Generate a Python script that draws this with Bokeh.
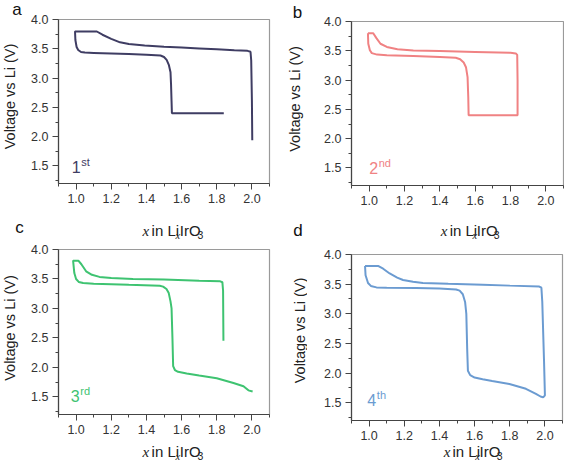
import math
from bokeh.plotting import figure
from bokeh.layouts import column, row
from bokeh.models import Label, FixedTicker, PrintfTickFormatter, Range1d
from bokeh.embed import file_html
from bokeh.resources import INLINE

# ---------------- data ----------------
x_ticks = [1.0, 1.2, 1.4, 1.6, 1.8, 2.0]
x_minor = [0.9, 1.1, 1.3, 1.5, 1.7, 1.9, 2.1]
v_ticks = [1.5, 2.0, 2.5, 3.0, 3.5, 4.0]
v_minor = [1.25, 1.75, 2.25, 2.75, 3.25, 3.75]

# cycle 1
a_x = [1.84, 1.545, 1.543, 1.540, 1.537, 1.528, 1.515, 1.50, 1.48, 1.40, 1.30, 1.20, 1.10,
       1.05, 1.028, 1.012, 1.003, 0.996, 0.994, 1.05, 1.118, 1.15, 1.20, 1.25, 1.30, 1.39,
       1.50, 1.60, 1.70, 1.80, 1.90, 1.975, 1.992, 1.996, 2.0, 2.002]
a_v = [2.40, 2.40, 2.60, 2.90, 3.10, 3.22, 3.31, 3.36, 3.385, 3.40, 3.41, 3.42, 3.43,
       3.435, 3.445, 3.48, 3.53, 3.65, 3.795, 3.795, 3.795, 3.74, 3.67, 3.61, 3.58, 3.555,
       3.535, 3.52, 3.505, 3.49, 3.475, 3.465, 3.45, 3.30, 2.60, 1.94]

# cycle 2
b_x = [0.993, 1.023, 1.04, 1.064, 1.10, 1.16, 1.25, 1.40, 1.60, 1.80, 1.830, 1.838, 1.840,
       1.840, 1.70, 1.563, 1.561, 1.557, 1.548, 1.535, 1.515, 1.49, 1.40, 1.25, 1.10, 1.045,
       1.015, 1.004, 0.995, 0.993]
b_v = [3.80, 3.80, 3.72, 3.62, 3.565, 3.525, 3.505, 3.495, 3.48, 3.465, 3.455, 3.43, 3.00,
       2.40, 2.40, 2.40, 2.70, 3.05, 3.22, 3.30, 3.355, 3.38, 3.395, 3.41, 3.425, 3.435,
       3.46, 3.51, 3.62, 3.80]

# cycle 3
c_x = [2.004, 1.98, 1.952, 1.895, 1.80, 1.70, 1.629, 1.58, 1.562, 1.552, 1.548, 1.543, 1.537,
       1.527, 1.514, 1.495, 1.476, 1.30, 1.10, 1.04, 1.015, 1.0, 0.99, 0.983, 1.013, 1.03,
       1.057, 1.09, 1.133, 1.20, 1.324, 1.50, 1.70, 1.82, 1.832, 1.836, 1.838]
c_v = [1.59, 1.61, 1.68, 1.735, 1.815, 1.86, 1.895, 1.925, 1.955, 2.02, 2.50, 3.00, 3.12,
       3.26, 3.33, 3.37, 3.385, 3.40, 3.42, 3.43, 3.45, 3.50, 3.60, 3.81, 3.81, 3.75,
       3.63, 3.57, 3.535, 3.515, 3.50, 3.49, 3.47, 3.46, 3.445, 3.30, 2.45]

# cycle 4
d_x = [0.977, 1.051, 1.08, 1.117, 1.16, 1.193, 1.25, 1.306, 1.45, 1.646, 1.80, 1.968, 1.98,
       1.985, 1.995, 2.0, 1.99, 1.975, 1.949, 1.892, 1.798, 1.70, 1.646, 1.60, 1.575, 1.562,
       1.558, 1.553, 1.546, 1.533, 1.515, 1.495, 1.40, 1.268, 1.10, 1.042, 1.01, 0.994,
       0.98, 0.977]
d_v = [3.807, 3.807, 3.76, 3.68, 3.61, 3.57, 3.54, 3.52, 3.505, 3.49, 3.475, 3.46, 3.44,
       3.20, 2.20, 1.625, 1.59, 1.605, 1.65, 1.735, 1.815, 1.865, 1.895, 1.925, 1.965, 2.04,
       2.40, 3.00, 3.20, 3.33, 3.39, 3.41, 3.425, 3.435, 3.44, 3.445, 3.47, 3.52,
       3.65, 3.807]

cycle_nums = ["1", "2", "3", "4"]
cycle_sups = ["st", "nd", "rd", "th"]
panel_letters = ["a", "b", "c", "d"]
colors = ["#3f3d63", "#f08283", "#3ec371", "#6b9bd1"]
y_label = "Voltage vs Li (V)"

SANS = "Liberation Sans"
SERIF = "Liberation Serif"
AXIS_DARK = "#444444"
TEXT = "#222222"


def make_panel(xs, vs, color, num, sup, fw, fh, bl, br, bt, bb, ord_xy):
    p = figure(frame_width=fw, frame_height=fh, min_border_left=bl, min_border_right=br,
               min_border_top=bt, min_border_bottom=bb, title=None,
               x_range=Range1d(0.9, 2.1), y_range=Range1d(1.2, 4.0),
               toolbar_location=None, output_backend="svg")
    p.line(xs, vs, line_color=color, line_width=2)
    p.xgrid.visible = False
    p.ygrid.visible = False
    p.outline_line_color = "#9a9a9a"
    p.outline_line_width = 1.2
    p.background_fill_color = "white"
    p.border_fill_color = "white"
    p.xaxis.ticker = FixedTicker(ticks=x_ticks, minor_ticks=x_minor)
    p.yaxis.ticker = FixedTicker(ticks=v_ticks, minor_ticks=v_minor)
    for ax in (p.xaxis[0], p.yaxis[0]):
        ax.formatter = PrintfTickFormatter(format="%.1f")
        ax.axis_line_color = AXIS_DARK
        ax.axis_line_width = 1.2
        ax.major_tick_line_color = AXIS_DARK
        ax.minor_tick_line_color = AXIS_DARK
        ax.major_tick_out = 6
        ax.major_tick_in = 0
        ax.minor_tick_out = 3
        ax.minor_tick_in = 0
        ax.major_label_text_font = SANS
        ax.major_label_text_font_size = "12.5px"
        ax.major_label_text_color = "#333333"
        ax.major_label_standoff = 4

    # cycle label e.g. 1st (anchors are visual centres)
    ox, oy = ord_xy
    p.add_layout(Label(x=ox, y=oy, text=num, text_font=SANS, text_font_size="16px",
                       text_color=color, text_baseline="middle", text_align="left"))
    p.add_layout(Label(x=ox, y=oy, x_offset=9.5, y_offset=5, text=sup, text_font=SANS,
                       text_font_size="11px", text_color=color,
                       text_baseline="middle", text_align="left"))
    return p


def strip(w, h):
    s = figure(width=w, height=h, x_range=Range1d(0, w), y_range=Range1d(0, h),
               x_axis_type=None, y_axis_type=None, min_border=0, title=None,
               toolbar_location=None, output_backend="svg")
    s.outline_line_color = None
    s.background_fill_color = "white"
    s.border_fill_color = "white"
    return s


def x_label(s, cx, cy):
    # "x in LixIrO3" with italic x and subscripts (advance widths in px)
    pieces = [("x", SERIF, "italic", 15, 0, 10.9),
              ("in Li", SANS, "normal", 15, 0, 28.3),
              ("x", SERIF, "italic", 10.5, -4.8, 5.2),
              ("IrO", SANS, "normal", 15, 0, 21.1),
              ("3", SANS, "normal", 10.5, -4.8, 5.8)]
    total = sum(pc[5] for pc in pieces)
    sx = cx - total / 2
    for txt, fnt, sty, size, dy, w in pieces:
        s.add_layout(Label(x=sx, y=cy + dy, text=txt, text_font=fnt, text_font_style=sty,
                           text_font_size=f"{size}px", text_color=TEXT,
                           text_baseline="middle", text_align="left"))
        sx += w


def letter(s, txt, x, y):
    s.add_layout(Label(x=x, y=y, text=txt, text_font=SANS, text_font_size="17px",
                       text_color="#111111", text_baseline="middle", text_align="center"))


def ylab(s, x, y):
    s.add_layout(Label(x=x, y=y, text=y_label, angle=math.pi / 2, text_font=SANS,
                       text_font_size="14.5px", text_color=TEXT,
                       text_baseline="middle", text_align="center"))


H = 462
# ---------- left column (page x 0 .. 279) ----------
pa = make_panel(a_x, a_v, colors[0], cycle_nums[0], cycle_sups[0],
                211, 164, 30, 10, 19, 25, (0.975, 1.49))
pc = make_panel(c_x, c_v, colors[2], cycle_nums[2], cycle_sups[2],
                211, 165, 30, 10, 6, 24, (0.97, 1.52))
mid_l = strip(251, 35)
x_label(mid_l, 135.5, 13)
bot_l = strip(251, 24)
x_label(bot_l, 135.5, 11)
side_l = strip(28, H)
letter(side_l, panel_letters[0], 16.5, 453.5)
letter(side_l, panel_letters[2], 19, 235.2)
ylab(side_l, 9.5, 366)
ylab(side_l, 9.5, 134.5)

# ---------- right column (page x 279 .. 564) ----------
pb = make_panel(b_x, b_v, colors[1], cycle_nums[1], cycle_sups[1],
                212, 164, 40, 5, 21, 24, (1.0, 1.495))
pd = make_panel(d_x, d_v, colors[3], cycle_nums[3], cycle_sups[3],
                211, 166, 44, 2, 11, 22, (0.99, 1.55))
mid_r = strip(257, 34)
x_label(mid_r, 146, 13)
bot_r = strip(257, 20)
x_label(bot_r, 149.5, 11)
side_r = strip(28, H)
letter(side_r, panel_letters[1], 18, 449.7)
letter(side_r, panel_letters[3], 18.5, 231.6)
ylab(side_r, 15.5, 363.5)
ylab(side_r, 20, 132)

left = row(side_l, column(pa, mid_l, pc, bot_l))
right = row(side_r, column(pb, mid_r, pd, bot_r))
layout = row(left, right)

open("out.html", "w").write(file_html(layout, INLINE))
